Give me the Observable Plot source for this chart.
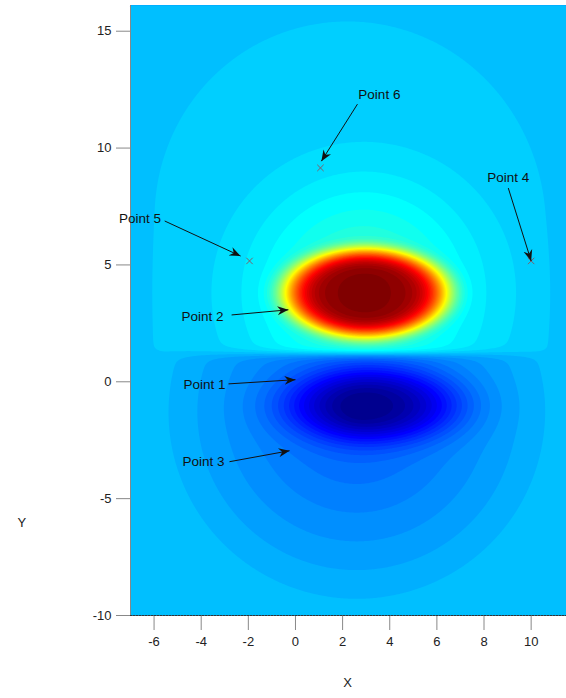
<!DOCTYPE html>
<html>
<head>
<meta charset="utf-8">
<script src="https://cdn.jsdelivr.net/npm/d3@7"></script>
<script src="https://cdn.jsdelivr.net/npm/@observablehq/plot@0.6"></script>
<style>
  html, body { margin: 0; padding: 0; background: #fff; }
  #chart { width: 566px; height: 698px; }
</style>
</head>
<body>
<div id="chart"></div>
<script>
// ---- axis ticks ----
const xTicks = [-6, -4, -2, 0, 2, 4, 6, 8, 10];
const xTickLabels = ["-6", "-4", "-2", "0", "2", "4", "6", "8", "10"];
const yTicks = [-10, -5, 0, 5, 10, 15];
const yTickLabels = ["-10", "-5", "0", "5", "10", "15"];

// ---- field (levels in colour-map steps, 64-step jet) ----
const backgroundLevel = 20.5;          // flat light-blue surroundings
const splitY = 1.2;                    // line separating the upper and lower lobes
const lobeName = ["positive core", "positive near halo", "positive far halo", "negative core", "negative halo"];
const lobeX   = [3.0, 2.9, 2.2, 3.3, 2.6];
const lobeY   = [3.8, 3.8, 7.4, -1.0, -1.3];
const lobeAmp = [36, 7.4, 0.6, -13, -7.0];
const lobeRx  = [3.5, 3.15, 8.4, 2.8, 1.0];
const lobeRy  = [1.9, 3.15, 8.4, 1.2, 1.0];
const negRadius = 8.6;                 // reach of the negative halo

// ---- annotated points ----
const pointLabel = ["Point 1", "Point 2", "Point 3", "Point 4", "Point 5", "Point 6"];
const labelX     = [-3.86, -3.94, -3.9, 9.03, -6.6, 3.56];
const labelY     = [-0.13, 2.78, -3.42, 8.72, 6.97, 12.3];
const arrowFromX = [-2.84, -2.71, -2.8, 9.03, -5.55, 2.63];
const arrowFromY = [-0.09, 2.86, -3.42, 8.29, 6.88, 11.88];
const arrowToX   = [0.0, -0.3, -0.25, 10.0, -2.33, 1.1];
const arrowToY   = [0.09, 3.08, -2.95, 5.17, 5.38, 9.44];
const markerX    = [10.0, -1.95, 1.06];
const markerY    = [5.17, 5.17, 9.15];

// ---- build tables ----
const labels = pointLabel.map((name, i) => ({
  name, lx: labelX[i], ly: labelY[i],
  x1: arrowFromX[i], y1: arrowFromY[i], x2: arrowToX[i], y2: arrowToY[i]
}));
const markers = markerX.map((x, i) => ({x, y: markerY[i]}));

function e2(i, x, y) {
  return ((x - lobeX[i]) / lobeRx[i]) ** 2 + ((y - lobeY[i]) / lobeRy[i]) ** 2;
}
function level(x, y) {
  const up = 1 / (1 + Math.exp(-(y - splitY) / 0.1));
  let v = backgroundLevel;
  v += lobeAmp[0] * Math.exp(-(e2(0, x, y) ** 3));
  const near = lobeAmp[1] * Math.exp(-e2(1, x, y) / 2);
  // far halo: round top, straight sides
  const fd = Math.hypot((x - lobeX[2]) / lobeRx[2], Math.max(0, y - lobeY[2]) / lobeRy[2]);
  const far = lobeAmp[2] / (1 + Math.exp((fd - 1) / 0.03));
  v += up * (near + far);
  const negCore = lobeAmp[3] * Math.exp(-(e2(3, x, y) ** 1.4) / 2);
  const negHalo = lobeAmp[4] * Math.max(0, 1 - Math.sqrt(e2(4, x, y)) / negRadius);
  v += (1 - up) * (negCore + negHalo);
  return v;
}

// 64-step jet colour map
function jet64(k) {
  let r, g, b;
  if (k <= 8) { r = 0; g = 0; b = 0.5 + k / 16; }
  else if (k <= 24) { r = 0; g = (k - 8) / 16; b = 1; }
  else if (k <= 40) { r = (k - 24) / 16; g = 1; b = 1 - (k - 24) / 16; }
  else if (k <= 56) { r = 1; g = 1 - (k - 40) / 16; b = 0; }
  else { r = 1 - (k - 56) / 16; g = 0; b = 0; }
  return d3.rgb(r * 255, g * 255, b * 255).formatHex();
}
const thresholds = d3.range(0, 65);
const bandColors = thresholds.map(t => jet64(Math.max(1, t)));

const svg = Plot.plot({
  width: 566,
  height: 698,
  marginLeft: 130,
  marginRight: 0,
  marginTop: 5,
  marginBottom: 83,
  style: {fontFamily: "'Liberation Sans', Arial, sans-serif", fontSize: "13px", background: "#fff", overflow: "visible"},
  x: {domain: [-7, 11.5]},
  y: {domain: [-10, 16.1]},
  color: {type: "ordinal", domain: thresholds, range: bandColors},
  marks: [
    Plot.contour({
      value: level, fill: "value", stroke: "none",
      x1: -7, x2: 11.5, y1: -10, y2: 16.1,
      thresholds, pixelSize: 1.5
    }),
    Plot.axisY({ticks: yTicks, tickFormat: (d) => yTickLabels[yTicks.indexOf(d)], tickSize: 14, tickPadding: 5,
      stroke: "#888", fill: "#222", fontSize: 13, label: null}),
    Plot.axisX({ticks: xTicks, tickFormat: (d) => xTickLabels[xTicks.indexOf(d)], tickSize: 15, tickPadding: 6,
      stroke: "#888", fill: "#222", fontSize: 13, label: null}),
    Plot.frame({anchor: "left", stroke: "#888"}),
    Plot.frame({anchor: "bottom", stroke: "#333", strokeDasharray: "1.5,1.5"}),
    Plot.text(["Y"], {frameAnchor: "left", dx: -113, dy: 212, fill: "#222", fontSize: 13}),
    Plot.text(["X"], {frameAnchor: "bottom", dx: -1, dy: 71, fill: "#222", fontSize: 13}),
    Plot.dot(markers, {x: "x", y: "y", symbol: "times", r: 3, stroke: "#7d5f6d", strokeWidth: 1}),
    Plot.link(labels, {x1: "x1", y1: "y1", x2: "x2", y2: "y2", stroke: "#111", strokeWidth: 1}),
    Plot.text(labels, {x: "lx", y: "ly", text: "name", fill: "#111", fontSize: 13.5})
  ]
});

// filled barbed arrowheads on the leader lines
const defs = d3.select(svg).insert("defs", ":first-child");
defs.append("marker")
  .attr("id", "ahead")
  .attr("viewBox", "-11 -5 12 10")
  .attr("refX", 0).attr("refY", 0)
  .attr("markerWidth", 12).attr("markerHeight", 10)
  .attr("markerUnits", "userSpaceOnUse")
  .attr("orient", "auto")
  .append("path")
  .attr("d", "M0,0L-11,-4.5L-7.5,0L-11,4.5Z")
  .attr("fill", "#111");
d3.select(svg).selectAll('g[aria-label="link"] path').attr("marker-end", "url(#ahead)");

document.getElementById("chart").appendChild(svg);
</script>
</body>
</html>
